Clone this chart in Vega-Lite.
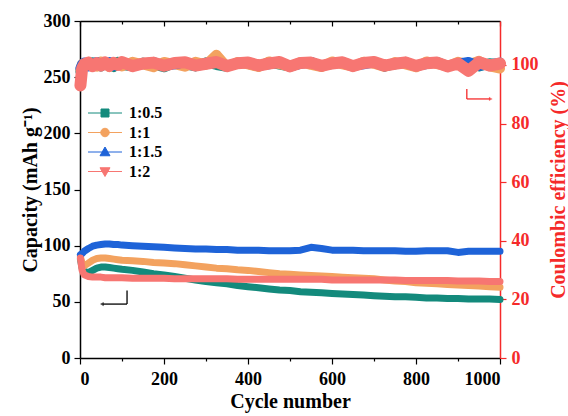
{
 "$schema": "https://vega.github.io/schema/vega-lite/v6.json",
 "width": 420, "height": 337,
 "autosize": {"type": "none"},
 "padding": {"left": 80, "top": 21, "right": 68, "bottom": 58},
 "background": "white",
 "config": {
  "view": {"stroke": null},
  "font": "Liberation Serif",
  "axis": {"grid": false, "labelFont": "Liberation Serif", "labelFontWeight": "bold", "labelFontSize": 18, "titleFont": "Liberation Serif", "titleFontWeight": "bold", "titleFontSize": 20, "domainWidth": 1.5, "tickWidth": 1.2, "domainColor": "black", "tickColor": "black", "labelColor": "black", "titleColor": "black"},
  "legend": {"labelFont": "Liberation Serif"}
 },
 "datasets": {
  "d": [
   {"s":"1:0.5","c":1,"cap":88,"ce":97.8},{"s":"1:0.5","c":5,"cap":80,"ce":99.6},{"s":"1:0.5","c":10,"cap":77,"ce":100.6},{"s":"1:0.5","c":20,"cap":76,"ce":99.7},{"s":"1:0.5","c":30,"cap":78,"ce":100.9},{"s":"1:0.5","c":40,"cap":80,"ce":100.2},{"s":"1:0.5","c":50,"cap":81,"ce":99.5},{"s":"1:0.5","c":60,"cap":81,"ce":100.8},{"s":"1:0.5","c":70,"cap":80.5,"ce":100.3},{"s":"1:0.5","c":80,"cap":80,"ce":99.3},{"s":"1:0.5","c":90,"cap":79.5,"ce":101},{"s":"1:0.5","c":100,"cap":79,"ce":100},{"s":"1:0.5","c":125,"cap":78,"ce":99.5},{"s":"1:0.5","c":150,"cap":76.5,"ce":100.8},{"s":"1:0.5","c":175,"cap":75,"ce":100.2},{"s":"1:0.5","c":200,"cap":74,"ce":99.2},{"s":"1:0.5","c":225,"cap":72.5,"ce":100.7},{"s":"1:0.5","c":250,"cap":71,"ce":100.2},{"s":"1:0.5","c":275,"cap":69.5,"ce":99.5},{"s":"1:0.5","c":300,"cap":68,"ce":100.9},{"s":"1:0.5","c":325,"cap":67,"ce":100},{"s":"1:0.5","c":350,"cap":66,"ce":99.4},{"s":"1:0.5","c":375,"cap":64.5,"ce":100.8},{"s":"1:0.5","c":400,"cap":63.5,"ce":100.4},{"s":"1:0.5","c":425,"cap":62.5,"ce":99.5},{"s":"1:0.5","c":450,"cap":61.5,"ce":101},{"s":"1:0.5","c":475,"cap":60.5,"ce":100.1},{"s":"1:0.5","c":500,"cap":60,"ce":99.4},{"s":"1:0.5","c":525,"cap":59,"ce":100.6},{"s":"1:0.5","c":550,"cap":58.5,"ce":101},{"s":"1:0.5","c":575,"cap":58,"ce":99.7},{"s":"1:0.5","c":600,"cap":57.5,"ce":100.3},{"s":"1:0.5","c":625,"cap":57,"ce":100.9},{"s":"1:0.5","c":650,"cap":56.5,"ce":99.5},{"s":"1:0.5","c":675,"cap":56,"ce":100.5},{"s":"1:0.5","c":700,"cap":55.5,"ce":101.1},{"s":"1:0.5","c":725,"cap":55,"ce":99.5},{"s":"1:0.5","c":750,"cap":54.5,"ce":100.2},{"s":"1:0.5","c":775,"cap":54.5,"ce":100.8},{"s":"1:0.5","c":800,"cap":54,"ce":99.6},{"s":"1:0.5","c":825,"cap":53.5,"ce":100.5},{"s":"1:0.5","c":850,"cap":53.5,"ce":101},{"s":"1:0.5","c":875,"cap":53,"ce":99.7},{"s":"1:0.5","c":900,"cap":53,"ce":100.2},{"s":"1:0.5","c":925,"cap":52.5,"ce":100.8},{"s":"1:0.5","c":950,"cap":52.5,"ce":99.5},{"s":"1:0.5","c":975,"cap":52.5,"ce":100.6},{"s":"1:0.5","c":1000,"cap":52,"ce":100.2},
   {"s":"1:1","c":1,"cap":90,"ce":98.5},{"s":"1:1","c":5,"cap":84,"ce":100.4},{"s":"1:1","c":10,"cap":82,"ce":99.5},{"s":"1:1","c":20,"cap":84.5,"ce":101},{"s":"1:1","c":30,"cap":87,"ce":100},{"s":"1:1","c":40,"cap":88.5,"ce":99.4},{"s":"1:1","c":50,"cap":89,"ce":101.2},{"s":"1:1","c":60,"cap":89,"ce":100.2},{"s":"1:1","c":70,"cap":88.5,"ce":99.3},{"s":"1:1","c":80,"cap":88,"ce":100.9},{"s":"1:1","c":90,"cap":87.5,"ce":100.5},{"s":"1:1","c":100,"cap":87,"ce":99.5},{"s":"1:1","c":125,"cap":86.5,"ce":101.1},{"s":"1:1","c":150,"cap":86,"ce":100.2},{"s":"1:1","c":175,"cap":85,"ce":99.2},{"s":"1:1","c":200,"cap":84.5,"ce":101},{"s":"1:1","c":225,"cap":84,"ce":100.3},{"s":"1:1","c":250,"cap":83,"ce":99.4},{"s":"1:1","c":275,"cap":82,"ce":101.1},{"s":"1:1","c":300,"cap":81,"ce":100.1},{"s":"1:1","c":325,"cap":80,"ce":103.5},{"s":"1:1","c":350,"cap":79.5,"ce":99.4},{"s":"1:1","c":375,"cap":78.5,"ce":101},{"s":"1:1","c":400,"cap":78,"ce":100.2},{"s":"1:1","c":425,"cap":77,"ce":99.3},{"s":"1:1","c":450,"cap":76,"ce":101.2},{"s":"1:1","c":475,"cap":75,"ce":100.3},{"s":"1:1","c":500,"cap":74.5,"ce":99.4},{"s":"1:1","c":525,"cap":74,"ce":101},{"s":"1:1","c":550,"cap":73.5,"ce":100},{"s":"1:1","c":575,"cap":73,"ce":99.3},{"s":"1:1","c":600,"cap":72.5,"ce":101.2},{"s":"1:1","c":625,"cap":72,"ce":100.2},{"s":"1:1","c":650,"cap":71.5,"ce":99.4},{"s":"1:1","c":675,"cap":71,"ce":101.1},{"s":"1:1","c":700,"cap":70.5,"ce":100.4},{"s":"1:1","c":725,"cap":69.5,"ce":99.3},{"s":"1:1","c":750,"cap":68.5,"ce":101},{"s":"1:1","c":775,"cap":68,"ce":100.2},{"s":"1:1","c":800,"cap":67,"ce":99.2},{"s":"1:1","c":825,"cap":66.5,"ce":101.2},{"s":"1:1","c":850,"cap":66,"ce":100.3},{"s":"1:1","c":875,"cap":65.5,"ce":99.5},{"s":"1:1","c":900,"cap":65,"ce":101.1},{"s":"1:1","c":925,"cap":64.5,"ce":100.2},{"s":"1:1","c":950,"cap":64,"ce":101.4},{"s":"1:1","c":975,"cap":63.5,"ce":99.5},{"s":"1:1","c":1000,"cap":63,"ce":98.8},
   {"s":"1:1.5","c":1,"cap":92,"ce":98.9},{"s":"1:1.5","c":5,"cap":93,"ce":100.2},{"s":"1:1.5","c":10,"cap":95,"ce":100.8},{"s":"1:1.5","c":20,"cap":97.5,"ce":99.5},{"s":"1:1.5","c":30,"cap":99.5,"ce":100.5},{"s":"1:1.5","c":40,"cap":100.5,"ce":101},{"s":"1:1.5","c":50,"cap":101,"ce":99.6},{"s":"1:1.5","c":60,"cap":101.5,"ce":100.2},{"s":"1:1.5","c":70,"cap":101.5,"ce":101},{"s":"1:1.5","c":80,"cap":101,"ce":99.7},{"s":"1:1.5","c":90,"cap":101,"ce":100.2},{"s":"1:1.5","c":100,"cap":100.5,"ce":100.9},{"s":"1:1.5","c":125,"cap":100,"ce":99.5},{"s":"1:1.5","c":150,"cap":99.5,"ce":100.4},{"s":"1:1.5","c":175,"cap":99,"ce":101},{"s":"1:1.5","c":200,"cap":98.5,"ce":99.7},{"s":"1:1.5","c":225,"cap":98,"ce":100.2},{"s":"1:1.5","c":250,"cap":97.5,"ce":101},{"s":"1:1.5","c":275,"cap":97,"ce":99.6},{"s":"1:1.5","c":300,"cap":97,"ce":100.3},{"s":"1:1.5","c":325,"cap":96.5,"ce":100.9},{"s":"1:1.5","c":350,"cap":96.5,"ce":99.5},{"s":"1:1.5","c":375,"cap":96,"ce":100.5},{"s":"1:1.5","c":400,"cap":96,"ce":101},{"s":"1:1.5","c":425,"cap":96,"ce":99.7},{"s":"1:1.5","c":450,"cap":95.5,"ce":100.2},{"s":"1:1.5","c":475,"cap":95.5,"ce":100.9},{"s":"1:1.5","c":500,"cap":95.5,"ce":99.5},{"s":"1:1.5","c":525,"cap":96,"ce":100.4},{"s":"1:1.5","c":550,"cap":98.5,"ce":101},{"s":"1:1.5","c":575,"cap":97.5,"ce":99.6},{"s":"1:1.5","c":600,"cap":96,"ce":100.5},{"s":"1:1.5","c":625,"cap":96,"ce":101},{"s":"1:1.5","c":650,"cap":96,"ce":99.7},{"s":"1:1.5","c":675,"cap":95.5,"ce":100.2},{"s":"1:1.5","c":700,"cap":95.5,"ce":100.9},{"s":"1:1.5","c":725,"cap":95.5,"ce":99.5},{"s":"1:1.5","c":750,"cap":95.5,"ce":100.5},{"s":"1:1.5","c":775,"cap":95,"ce":101},{"s":"1:1.5","c":800,"cap":95,"ce":99.6},{"s":"1:1.5","c":825,"cap":95.5,"ce":100.3},{"s":"1:1.5","c":850,"cap":95.5,"ce":100.9},{"s":"1:1.5","c":875,"cap":95.5,"ce":99.5},{"s":"1:1.5","c":900,"cap":94,"ce":100.4},{"s":"1:1.5","c":925,"cap":95,"ce":101},{"s":"1:1.5","c":950,"cap":95,"ce":99.7},{"s":"1:1.5","c":975,"cap":95,"ce":100.2},{"s":"1:1.5","c":1000,"cap":95,"ce":100.8},
   {"s":"1:2","c":1,"cap":89,"ce":93},{"s":"1:2","c":5,"cap":78,"ce":98.8},{"s":"1:2","c":10,"cap":74,"ce":100.2},{"s":"1:2","c":20,"cap":72.5,"ce":100.8},{"s":"1:2","c":30,"cap":72,"ce":99.6},{"s":"1:2","c":40,"cap":72,"ce":100.6},{"s":"1:2","c":50,"cap":72,"ce":99.8},{"s":"1:2","c":60,"cap":71.5,"ce":100.9},{"s":"1:2","c":70,"cap":71.5,"ce":99.7},{"s":"1:2","c":80,"cap":71.5,"ce":100.7},{"s":"1:2","c":90,"cap":71.5,"ce":100},{"s":"1:2","c":100,"cap":71.5,"ce":101},{"s":"1:2","c":125,"cap":71,"ce":99.6},{"s":"1:2","c":150,"cap":71,"ce":100.5},{"s":"1:2","c":175,"cap":71,"ce":100.8},{"s":"1:2","c":200,"cap":71,"ce":99.7},{"s":"1:2","c":225,"cap":70.5,"ce":100.7},{"s":"1:2","c":250,"cap":70.5,"ce":100.9},{"s":"1:2","c":275,"cap":70.5,"ce":99.8},{"s":"1:2","c":300,"cap":70.5,"ce":100.4},{"s":"1:2","c":325,"cap":70.5,"ce":101},{"s":"1:2","c":350,"cap":70.5,"ce":99.6},{"s":"1:2","c":375,"cap":70,"ce":100.6},{"s":"1:2","c":400,"cap":70,"ce":100.8},{"s":"1:2","c":425,"cap":70,"ce":99.8},{"s":"1:2","c":450,"cap":70,"ce":100.5},{"s":"1:2","c":475,"cap":70,"ce":101},{"s":"1:2","c":500,"cap":70,"ce":99.5},{"s":"1:2","c":525,"cap":70,"ce":100.7},{"s":"1:2","c":550,"cap":70,"ce":100.8},{"s":"1:2","c":575,"cap":70,"ce":99.7},{"s":"1:2","c":600,"cap":69.5,"ce":100.5},{"s":"1:2","c":625,"cap":69.5,"ce":100.9},{"s":"1:2","c":650,"cap":69.5,"ce":99.6},{"s":"1:2","c":675,"cap":69.5,"ce":100.7},{"s":"1:2","c":700,"cap":69.5,"ce":101},{"s":"1:2","c":725,"cap":69.5,"ce":99.8},{"s":"1:2","c":750,"cap":69.5,"ce":100.4},{"s":"1:2","c":775,"cap":69,"ce":100.9},{"s":"1:2","c":800,"cap":69,"ce":99.7},{"s":"1:2","c":825,"cap":69,"ce":100.6},{"s":"1:2","c":850,"cap":69,"ce":100.8},{"s":"1:2","c":875,"cap":69,"ce":99.5},{"s":"1:2","c":900,"cap":68.5,"ce":100.5},{"s":"1:2","c":925,"cap":68.5,"ce":98},{"s":"1:2","c":950,"cap":68.5,"ce":100.9},{"s":"1:2","c":975,"cap":68,"ce":99.8},{"s":"1:2","c":1000,"cap":68,"ce":100.5}
  ],
  "arrL": [{"x":112,"x2":112,"y":60,"y2":48},{"x":112,"x2":54,"y":48,"y2":48}],
  "headL": [{"x":52,"y":48}],
  "arrR": [{"x":921,"x2":921,"y":91.8,"y2":88.4},{"x":921,"x2":976,"y":88.4,"y2":88.4}],
  "headR": [{"x":978,"y":88.4}]
 },
 "layer": [
  {
   "layer": [
    {
     "data": {"name": "d"},
     "mark": {"type": "line", "strokeWidth": 7, "strokeJoin": "round", "strokeCap": "round"},
     "encoding": {
      "x": {"field": "c", "type": "quantitative", "scale": {"domain": [0, 1000], "nice": false},
            "axis": {"orient": "bottom", "title": "Cycle number", "values": [0,100,200,300,400,500,600,700,800,900,1000], "format": "d",
                     "labelFont": "Liberation Serif", "labelFontWeight": "bold", "labelFontSize": 18,
                     "labelExpr": "datum.value % 200 === 0 ? datum.label : ''",
                     "tickSize": {"condition": {"test": "datum.value % 200 === 0", "value": 6}, "value": 3},
                     "labelPadding": 6, "titlePadding": 3}},
      "y": {"field": "cap", "type": "quantitative", "scale": {"domain": [0, 300], "nice": false},
            "axis": {"orient": "left", "title": "Capacity (mAh g⁻¹)", "values": [0,25,50,75,100,125,150,175,200,225,250,275,300], "format": "d",
                     "labelFont": "Liberation Serif", "labelFontWeight": "bold", "labelFontSize": 18,
                     "labelExpr": "datum.value % 50 === 0 ? datum.label : ''",
                     "tickSize": {"condition": {"test": "datum.value % 50 === 0", "value": 6}, "value": 3},
                     "labelPadding": 4, "titlePadding": 3}},
      "color": {"field": "s", "type": "nominal",
                "scale": {"domain": ["1:0.5","1:1","1:1.5","1:2"], "range": ["#138a7c","#f3a25f","#1e63d8","#f77672"]}}
     }
    },
    {
     "data": {"name": "arrL"},
     "mark": {"type": "rule", "color": "black", "strokeWidth": 1.3},
     "encoding": {"x": {"field": "x", "type": "quantitative"}, "x2": {"field": "x2"}, "y": {"field": "y", "type": "quantitative"}, "y2": {"field": "y2"}}
    },
    {
     "data": {"name": "headL"},
     "mark": {"type": "point", "shape": "triangle-left", "filled": true, "color": "black", "size": 18},
     "encoding": {"x": {"field": "x", "type": "quantitative"}, "y": {"field": "y", "type": "quantitative"}}
    }
   ]
  },
  {
   "layer": [
    {
     "data": {"name": "d"},
     "mark": {"type": "point", "filled": true, "size": 40, "opacity": 1},
     "encoding": {
      "x": {"field": "c", "type": "quantitative", "scale": {"domain": [0, 1000], "nice": false},
            "axis": {"orient": "top", "title": null, "labels": false, "values": [0,100,200,300,400,500,600,700,800,900,1000],
                     "tickSize": {"condition": {"test": "datum.value % 200 === 0", "value": -5}, "value": -3}}},
      "y": {"field": "ce", "type": "quantitative", "scale": {"domain": [0, 115], "nice": false},
            "axis": {"orient": "right", "title": "Coulombic efficiency (%)", "titleAngle": 270, "titleBaseline": "top", "values": [0,10,20,30,40,50,60,70,80,90,100,110], "format": "d",
                     "labelFont": "Liberation Serif", "labelFontWeight": "bold", "labelFontSize": 18,
                     "labelExpr": "datum.value % 20 === 0 ? datum.label : ''",
                     "tickSize": {"condition": {"test": "datum.value % 20 === 0", "value": 6}, "value": 3},
                     "domainColor": "#f52a2a", "tickColor": "#f52a2a", "labelColor": "#f52a2a", "titleColor": "#f52a2a",
                     "labelPadding": 5, "titlePadding": 10}},
      "color": {"field": "s", "type": "nominal",
                "legend": {"title": null, "orient": "none", "legendX": 17, "legendY": 84, "symbolSize": 100,
                           "labelFont": "Liberation Serif", "labelFontWeight": "bold", "labelFontSize": 16, "labelColor": "black",
                           "labelOffset": 16, "rowPadding": 3.5, "padding": 0, "symbolStrokeWidth": 1,
                           "encode": {"symbols": {"update": {"stroke": {"scale": "color", "field": "value"}, "strokeWidth": {"value": 1}}}}}},
      "shape": {"field": "s", "type": "nominal",
                "scale": {"domain": ["1:0.5","1:1","1:1.5","1:2"],
                          "range": ["M-3.4,0H3.4M-0.8,-0.8H0.8V0.8H-0.8Z",
                                    "M-3.4,0H3.4M-0.85,0A0.85,0.85 0 1,0 0.85,0A0.85,0.85 0 1,0 -0.85,0Z",
                                    "M-3.4,0H3.4M0,-1L1,0.75H-1Z",
                                    "M-3.4,0H3.4M0,1L1,-0.75H-1Z"]},
                "legend": {"title": null, "orient": "none", "legendX": 17, "legendY": 84, "symbolSize": 100,
                           "labelFont": "Liberation Serif", "labelFontWeight": "bold", "labelFontSize": 16, "labelColor": "black",
                           "labelOffset": 16, "rowPadding": 3.5, "padding": 0, "symbolStrokeWidth": 1,
                           "encode": {"symbols": {"update": {"stroke": {"scale": "color", "field": "value"}, "strokeWidth": {"value": 1}}}}}}
     }
    },
    {
     "data": {"name": "d"},
     "transform": [{"filter": "datum.s !== '1:2'"}],
     "mark": {"type": "line", "strokeWidth": 10, "strokeJoin": "round", "strokeCap": "round"},
     "encoding": {
      "x": {"field": "c", "type": "quantitative"},
      "y": {"field": "ce", "type": "quantitative"},
      "color": {"field": "s", "type": "nominal"}
     }
    },
    {
     "data": {"name": "d"},
     "transform": [{"filter": "datum.s === '1:2'"}],
     "mark": {"type": "line", "strokeWidth": 12, "strokeJoin": "round", "strokeCap": "round"},
     "encoding": {
      "x": {"field": "c", "type": "quantitative"},
      "y": {"field": "ce", "type": "quantitative"},
      "color": {"field": "s", "type": "nominal"}
     }
    },
    {
     "data": {"name": "arrR"},
     "mark": {"type": "rule", "color": "#f52a2a", "strokeWidth": 1.3},
     "encoding": {"x": {"field": "x", "type": "quantitative"}, "x2": {"field": "x2"}, "y": {"field": "y", "type": "quantitative"}, "y2": {"field": "y2"}}
    },
    {
     "data": {"name": "headR"},
     "mark": {"type": "point", "shape": "triangle-right", "filled": true, "color": "#f52a2a", "size": 18},
     "encoding": {"x": {"field": "x", "type": "quantitative"}, "y": {"field": "y", "type": "quantitative"}}
    }
   ]
  }
 ],
 "resolve": {"scale": {"y": "independent"}, "axis": {"x": "independent"}}
}
